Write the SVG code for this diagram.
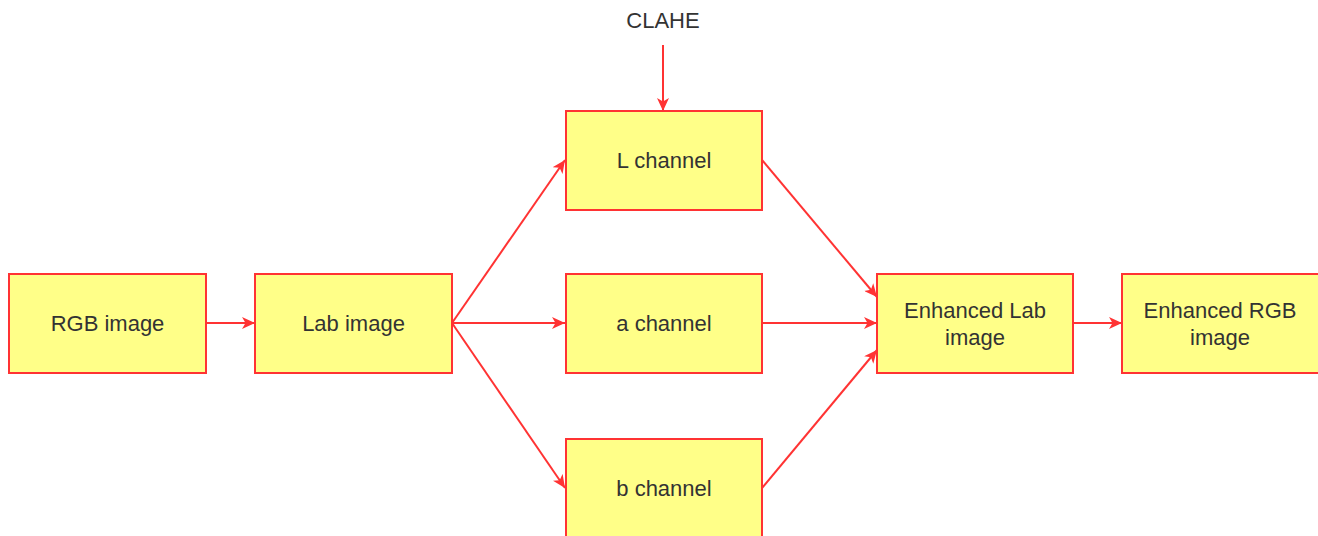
<svg xmlns="http://www.w3.org/2000/svg" width="1318" height="536" viewBox="0 0 1318 536">
<style>
.box{fill:#ffff88;stroke:#ff3333;stroke-width:2}
.lbl{font-family:"Liberation Sans",Arial,sans-serif;font-size:22px;fill:#333333;text-anchor:middle}
.edge{stroke:#ff3333;stroke-width:2;fill:none;marker-end:url(#arr)}
</style>
<defs>
<marker id="arr" markerUnits="userSpaceOnUse" markerWidth="14" markerHeight="12" refX="13" refY="6" orient="auto" viewBox="0 0 14 12">
<path d="M0,0 L13,6 L0,12 L3.5,6 z" fill="#ff3333"/>
</marker>
</defs>
<rect width="1318" height="536" fill="#ffffff"/>
<g id="connectors">
<line class="edge" x1="663" y1="45" x2="663" y2="111"/>
<line class="edge" x1="206" y1="323" x2="255" y2="323"/>
<line class="edge" x1="452" y1="323" x2="565" y2="160"/>
<line class="edge" x1="452" y1="323" x2="565" y2="323"/>
<line class="edge" x1="452" y1="323" x2="565" y2="488"/>
<line class="edge" x1="762" y1="160" x2="877" y2="297"/>
<line class="edge" x1="763" y1="323" x2="877" y2="323"/>
<line class="edge" x1="762" y1="488" x2="877" y2="350"/>
<line class="edge" x1="1073" y1="323" x2="1122" y2="323"/>
</g>
<g id="clahe"><text class="lbl" x="663" y="28">CLAHE</text></g>
<g id="rgb"><rect class="box" x="9" y="274" width="197" height="99"/><text class="lbl" x="107.5" y="331">RGB image</text></g>
<g id="lab"><rect class="box" x="255" y="274" width="197" height="99"/><text class="lbl" x="353.5" y="331">Lab image</text></g>
<g id="lch"><rect class="box" x="566" y="111" width="196" height="99"/><text class="lbl" x="664" y="168">L channel</text></g>
<g id="ach"><rect class="box" x="566" y="274" width="196" height="99"/><text class="lbl" x="664" y="331">a channel</text></g>
<g id="bch"><rect class="box" x="566" y="439" width="196" height="99"/><text class="lbl" x="664" y="496">b channel</text></g>
<g id="elab"><rect class="box" x="877" y="274" width="196" height="99"/><text class="lbl" x="975" y="318">Enhanced Lab</text><text class="lbl" x="975" y="345">image</text></g>
<g id="ergb"><rect class="box" x="1122" y="274" width="197" height="99"/><text class="lbl" x="1220" y="318">Enhanced RGB</text><text class="lbl" x="1220" y="345">image</text></g>
</svg>
